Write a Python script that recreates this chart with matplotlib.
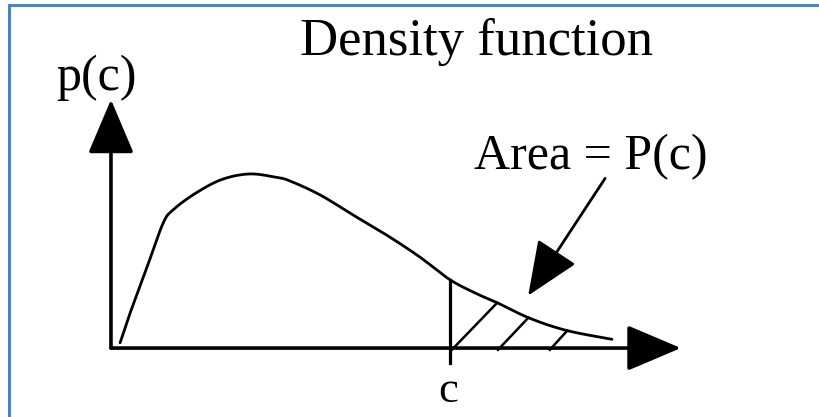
import numpy as np
import matplotlib.pyplot as plt
from matplotlib.lines import Line2D

# density curve (x in axis units, p in units of the peak)
curve_x = [0.16, 0.33, 0.63, 0.91, 1.09, 1.51, 1.96, 2.44, 2.91, 3.14, 3.67,
           4.25, 4.84, 5.42, 5.95, 6.42, 6.77, 7.35, 8.0, 8.79]
curve_p = [0.03, 0.195, 0.46, 0.71, 0.79, 0.89, 0.965, 0.995, 0.975, 0.955,
           0.875, 0.76, 0.645, 0.52, 0.39, 0.31, 0.26, 0.17, 0.10, 0.05]

c_value = 5.95
hatch_starts = [5.98, 6.79, 7.70]
x_axis_end = 10.0
y_axis_end = 1.42

title = "Density function"
y_label = "p(c)"
x_label = "c"
area_label = "Area = P(c)"
area_text_pos = (8.42, 1.02)
area_arrow_tail = (8.67, 0.97)
area_arrow_tip = (7.32, 0.30)


def smooth(xs, ys, n=20):
    # Catmull-Rom through the read points, only so the pen stroke is not jagged
    pts = np.column_stack([xs, ys])
    pts = np.vstack([pts[0], pts, pts[-1]])
    out = []
    t = np.linspace(0, 1, n, endpoint=False)[:, None]
    for i in range(1, len(pts) - 2):
        p0, p1, p2, p3 = pts[i - 1], pts[i], pts[i + 1], pts[i + 2]
        seg = 0.5 * ((2 * p1) + (-p0 + p2) * t
                     + (2 * p0 - 5 * p1 + 4 * p2 - p3) * t ** 2
                     + (-p0 + 3 * p1 - 3 * p2 + p3) * t ** 3)
        out.append(seg)
    out.append(pts[-2][None, :])
    out = np.vstack(out)
    return out[:, 0], out[:, 1]


plt.rcParams["font.family"] = ["Liberation Serif", "DejaVu Serif"]

fig = plt.figure(figsize=(8.2, 4.17), dpi=100)
ax = fig.add_axes([0, 0, 1, 1])
ax.set_xlim(-1.947, 12.44)
ax.set_ylim(-0.394, 1.989)
ax.axis("off")

head = "-|>,head_length=1.7,head_width=0.72"

# axes with arrow heads
ax.annotate("", xy=(x_axis_end, 0), xytext=(0, 0),
            arrowprops=dict(arrowstyle=head, mutation_scale=20, lw=2.6,
                            color="black", shrinkA=0, shrinkB=0))
ax.annotate("", xy=(0, y_axis_end), xytext=(0, 0),
            arrowprops=dict(arrowstyle=head, mutation_scale=20, lw=2.6,
                            color="black", shrinkA=0, shrinkB=0))

# the density curve
sx, sp = smooth(curve_x, curve_p)
ax.plot(sx, sp, color="black", lw=2.0, solid_capstyle="round")

# vertical line at c, with a small tick below the axis
p_at_c = np.interp(c_value, sx, sp)
ax.plot([c_value, c_value], [-0.086, p_at_c], color="black", lw=2.3)

# hatching under the tail, 45 degrees on screen
slope = 57 / 175
fine_x = np.linspace(c_value, curve_x[-1], 2000)
fine_p = np.interp(fine_x, sx, sp)
for x0 in hatch_starts:
    line_p = (fine_x - x0) * slope
    hit = np.argmax((line_p >= fine_p) & (fine_x > x0))
    ax.plot([x0, fine_x[hit]], [-0.01, fine_p[hit]], color="black", lw=1.8)

# labels
ax.text(6.42, 1.674, title, ha="center", va="baseline", fontsize=38)
ax.text(-0.26, 1.474, y_label, ha="center", va="baseline", fontsize=36)
ax.text(c_value - 0.03, -0.309, x_label, ha="center", va="baseline",
        fontsize=32)
ax.text(area_text_pos[0], area_text_pos[1], area_label, ha="center",
        va="baseline", fontsize=36)
ax.annotate("", xy=area_arrow_tip, xytext=area_arrow_tail,
            arrowprops=dict(arrowstyle=head, mutation_scale=20, lw=2.0,
                            color="black", shrinkA=0, shrinkB=0))

# thin blue frame on the top and left edges
fig.add_artist(Line2D([9.5 / 820, 1], [1 - 5 / 417, 1 - 5 / 417],
                      color="#4F81BD", lw=2.2, transform=fig.transFigure))
fig.add_artist(Line2D([9.5 / 820, 9.5 / 820], [0, 1 - 5 / 417],
                      color="#4F81BD", lw=2.2, transform=fig.transFigure))

fig.savefig("out.png", dpi=100)
